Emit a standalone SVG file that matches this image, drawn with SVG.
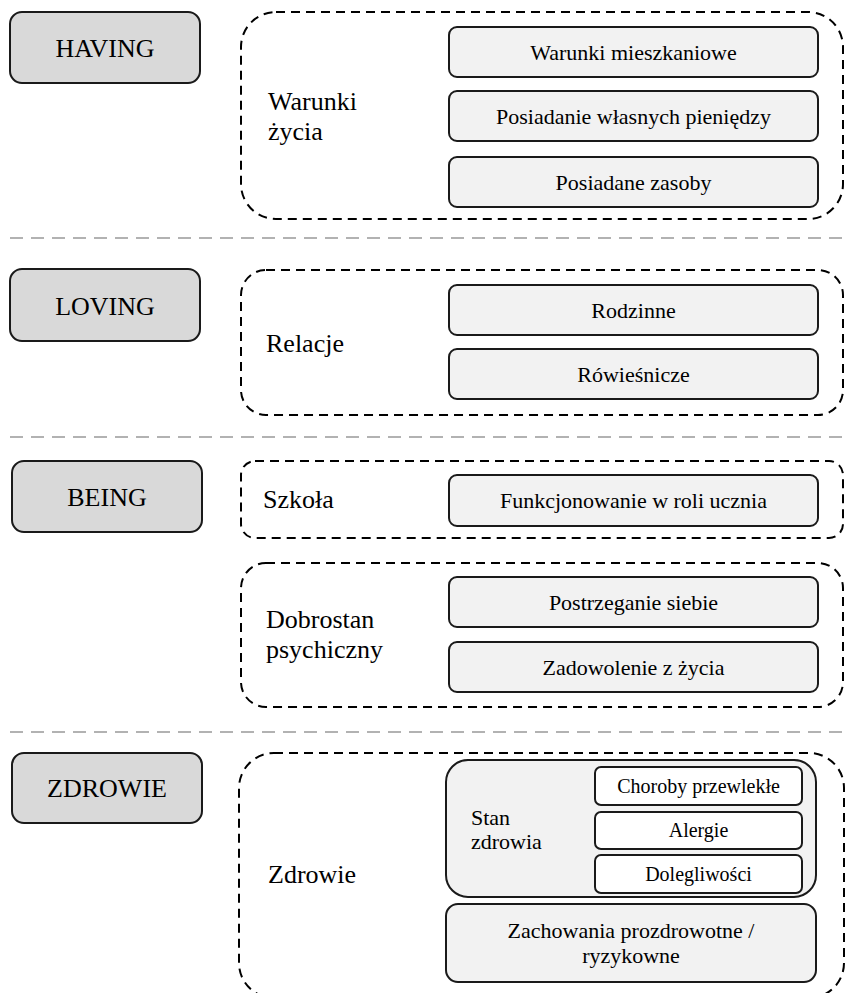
<svg xmlns="http://www.w3.org/2000/svg" width="848" height="993" viewBox="0 0 848 993">
<style>
text{font-family:"Liberation Serif","Times New Roman",serif;fill:#000;}
.cat{fill:#d9d9d9;stroke:#1a1a1a;stroke-width:2;}
.grp{fill:none;stroke:#000;stroke-width:2;stroke-dasharray:9 6;}
.item{fill:#f2f2f2;stroke:#1a1a1a;stroke-width:2;}
.sub{fill:#fff;stroke:#1a1a1a;stroke-width:2;}
.sep{stroke:#999;stroke-width:1.6;stroke-dasharray:13 8;fill:none;}
.big{font-size:26px;}
.mid{font-size:22px;text-anchor:middle;}
.lbl{font-size:22px;}
.sm{font-size:20px;text-anchor:middle;}
.cc{text-anchor:middle;}
</style>
<rect width="848" height="993" fill="#fff"/>
<g id="separators">
<line class="sep" x1="10" y1="238" x2="848" y2="238"/>
<line class="sep" x1="10" y1="437" x2="848" y2="437"/>
<line class="sep" x1="10" y1="732" x2="848" y2="732"/>
</g>
<g id="having">
<rect class="cat" x="10" y="12" width="190" height="71" rx="12"/>
<text class="big cc" x="105" y="57">HAVING</text>
</g>
<g id="warunki-zycia">
<rect class="grp" x="241" y="12" width="602" height="207" rx="35"/>
<text class="big" x="268" y="110">Warunki</text>
<text class="big" x="268" y="140">życia</text>
</g>
<g id="warunki-mieszkaniowe">
<rect class="item" x="449" y="27" width="369" height="50" rx="8"/>
<text class="mid" x="633.5" y="60">Warunki mieszkaniowe</text>
</g>
<g id="posiadanie-pieniedzy">
<rect class="item" x="449" y="91" width="369" height="50" rx="8"/>
<text class="mid" x="633.5" y="124">Posiadanie własnych pieniędzy</text>
</g>
<g id="posiadane-zasoby">
<rect class="item" x="449" y="157" width="369" height="50" rx="8"/>
<text class="mid" x="633.5" y="190">Posiadane zasoby</text>
</g>
<g id="loving">
<rect class="cat" x="10" y="269" width="190" height="72" rx="12"/>
<text class="big cc" x="105" y="315">LOVING</text>
</g>
<g id="relacje">
<rect class="grp" x="241" y="270" width="602" height="145" rx="25"/>
<text class="big" x="266" y="352">Relacje</text>
</g>
<g id="rodzinne">
<rect class="item" x="449" y="285" width="369" height="50" rx="8"/>
<text class="mid" x="633.5" y="318">Rodzinne</text>
</g>
<g id="rowiesnicze">
<rect class="item" x="449" y="349" width="369" height="50" rx="8"/>
<text class="mid" x="633.5" y="382">Rówieśnicze</text>
</g>
<g id="being">
<rect class="cat" x="12" y="461" width="190" height="71" rx="12"/>
<text class="big cc" x="107" y="506">BEING</text>
</g>
<g id="szkola">
<rect class="grp" x="241" y="461" width="602" height="77" rx="14"/>
<text class="big" x="263" y="508">Szkoła</text>
</g>
<g id="funkcjonowanie">
<rect class="item" x="449" y="475" width="369" height="51" rx="8"/>
<text class="mid" x="633.5" y="508">Funkcjonowanie w roli ucznia</text>
</g>
<g id="dobrostan">
<rect class="grp" x="241" y="563" width="602" height="144" rx="25"/>
<text class="big" x="266" y="628">Dobrostan</text>
<text class="big" x="266" y="658">psychiczny</text>
</g>
<g id="postrzeganie">
<rect class="item" x="449" y="577" width="369" height="50" rx="8"/>
<text class="mid" x="633.5" y="610">Postrzeganie siebie</text>
</g>
<g id="zadowolenie">
<rect class="item" x="449" y="642" width="369" height="50" rx="8"/>
<text class="mid" x="633.5" y="675">Zadowolenie z życia</text>
</g>
<g id="zdrowie-cat">
<rect class="cat" x="12" y="753" width="190" height="70" rx="12"/>
<text class="big cc" x="107" y="797">ZDROWIE</text>
</g>
<g id="zdrowie">
<rect class="grp" x="239" y="753" width="605" height="245" rx="35"/>
<text class="big" x="268" y="883">Zdrowie</text>
</g>
<g id="stan-zdrowia">
<rect class="item" x="446" y="760" width="370" height="137" rx="22"/>
<text class="lbl" x="471" y="825">Stan</text>
<text class="lbl" x="471" y="849">zdrowia</text>
</g>
<g id="choroby">
<rect class="sub" x="595" y="767" width="207" height="38" rx="6"/>
<text class="sm" x="698.5" y="793">Choroby przewlekłe</text>
</g>
<g id="alergie">
<rect class="sub" x="595" y="812" width="207" height="37" rx="6"/>
<text class="sm" x="698.5" y="837">Alergie</text>
</g>
<g id="dolegliwosci">
<rect class="sub" x="595" y="855" width="207" height="38" rx="6"/>
<text class="sm" x="698.5" y="881">Dolegliwości</text>
</g>
<g id="zachowania">
<rect class="item" x="446" y="904" width="370" height="78" rx="12"/>
<text class="mid" x="631" y="938">Zachowania prozdrowotne /</text>
<text class="mid" x="631" y="963">ryzykowne</text>
</g>
<g id="connectors"></g>
</svg>
